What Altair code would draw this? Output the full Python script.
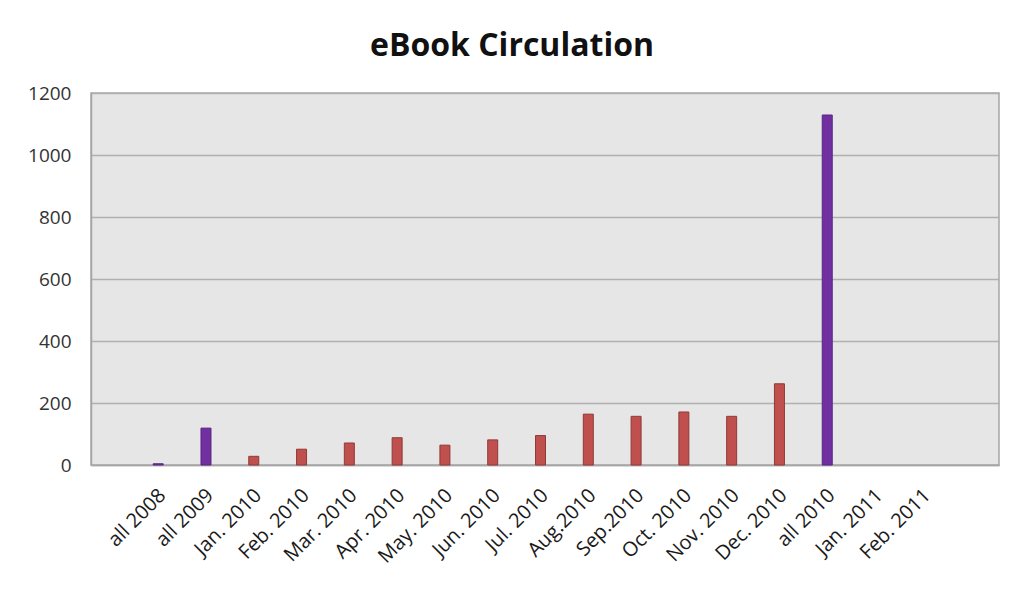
import altair as alt
import pandas as pd

categories = ["all 2008", "all 2009", "Jan. 2010", "Feb. 2010", "Mar. 2010", "Apr. 2010",
              "May. 2010", "Jun. 2010", "Jul. 2010", "Aug.2010", "Sep.2010", "Oct. 2010",
              "Nov. 2010", "Dec. 2010", "all 2010", "Jan. 2011", "Feb. 2011"]
values = [4, 119, 28, 51, 71, 88, 64, 81, 95, 164, 157, 171, 157, 262, 1129, 0, 0]
groups = ["year", "year", "month", "month", "month", "month", "month", "month", "month",
          "month", "month", "month", "month", "month", "year", "month", "month"]
y_ticks = [0, 200, 400, 600, 800, 1000, 1200]

df = pd.DataFrame({"period": categories, "circulation": values, "group": groups})

FONT = "Open Sans"

chart = alt.Chart(df).transform_filter(
    alt.datum.circulation > 0
).mark_bar(size=10, xOffset=-4.5, strokeWidth=1).encode(
    x=alt.X("period:N", sort=categories, title=None,
            scale=alt.Scale(domain=categories, paddingInner=0, paddingOuter=1),
            axis=alt.Axis(labelAngle=315, labelAlign="right", labelBaseline="middle",
                          labelFont=FONT, labelFontSize=20, labelColor="#1a1a1a",
                          labelPadding=27, ticks=False, domainColor="#a6a6a6",
                          domainWidth=1.5, grid=False, labelOverlap=False)),
    y=alt.Y("circulation:Q", title=None,
            scale=alt.Scale(domain=[0, 1200], nice=False),
            axis=alt.Axis(values=y_ticks, format="d", labelFont=FONT, labelFontSize=19,
                          labelColor="#333333", labelPadding=20, ticks=False,
                          domainColor="#a6a6a6", domainWidth=1.5,
                          gridColor="#b0b0b0", gridWidth=1.5)),
    color=alt.Color("group:N", legend=None,
                    scale=alt.Scale(domain=["year", "month"], range=["#7030a0", "#c0504d"])),
    stroke=alt.Stroke("group:N", legend=None,
                      scale=alt.Scale(domain=["year", "month"], range=["#5a2585", "#8f3a38"])),
).properties(
    width=908,
    height=372,
    title=alt.TitleParams("eBook Circulation", font=FONT, fontSize=32, fontWeight="bold",
                          color="#111111", anchor="middle", dx=-33, dy=5,
                          baseline="alphabetic", offset=1),
    autosize=alt.AutoSizeParams(type="none"),
    padding={"left": 83, "top": 85, "right": 17, "bottom": 115},
).configure(
    background="white"
).configure_view(
    fill="#e6e6e6", stroke="#a6a6a6", strokeWidth=1.5
)

chart.save("out.html", embed_options={"renderer": "svg", "actions": False})
